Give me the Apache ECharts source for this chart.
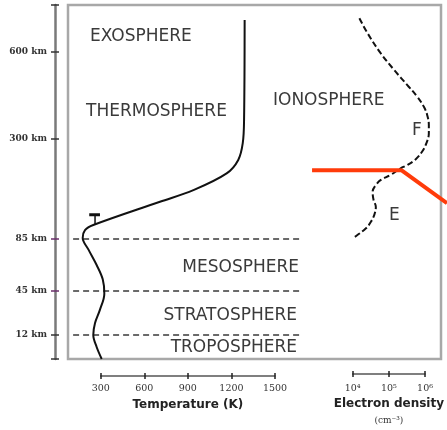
<!DOCTYPE html>
<html>
<head>
<meta charset="utf-8">
<script src="https://cdn.jsdelivr.net/npm/echarts@6/dist/echarts.min.js"></script>
<style>html,body{margin:0;padding:0;background:#fff}#c{width:447px;height:430px}</style>
</head>
<body>
<div id="c"></div>
<script>
// ---------- data ----------
const altitudeTicks = [12, 45, 85, 300, 600];
const altitudeLabels = ['12 km', '45 km', '85 km', '300 km', '600 km'];
const tempTicks = [300, 600, 900, 1200, 1500];
const densityTicks = [1e4, 1e5, 1e6];
const densityLabels = ['10\u2074', '10\u2075', '10\u2076'];

// temperature profile (altitude km, temperature K)
const tempAlt = [0, 6, 12, 21, 31, 43, 54, 65, 77, 87, 104, 115, 165, 190, 226, 255, 291, 366, 872];
const tempK   = [307, 272, 249, 261, 295, 325, 314, 272, 215, 176, 192, 249, 708, 938, 1167, 1247, 1278, 1287, 1291];

// mesopause marker
const markerT = 261, markerCapT = [221, 295], markerAlt = [115, 137];

// layer boundaries
const boundaryAlt = [12, 45, 85];
const boundaryT = [110, 1690];

// electron density profile (altitude km, density cm^-3)
const densAlt = [887, 759, 595, 538, 486, 446, 411, 383, 348, 320, 291, 273, 256, 244, 237, 223, 212, 201, 187, 169, 154, 137, 122, 108, 94, 86.5];
const densVal = [17300, 28700, 64600, 146000, 328000, 603000, 907000, 1110000, 1230000, 1230000, 1060000, 818000, 543000, 328000, 218000, 119000, 64600, 47500, 38900, 41300, 47500, 43200, 35100, 25900, 15600, 11500];

// pointer annotation (density, altitude)
const pointerDens = [946, 227000, 3750000];
const pointerAlt = [233, 233, 162];

// ---------- schematic altitude scale ----------
const ALT_BREAKS = [0, 12, 45, 85, 300, 600, 1000];
const ALT_POS = [0, 24, 68, 120, 220, 307, 354];
function altToPos(a) {
  for (let i = 1; i < ALT_BREAKS.length; i++) {
    if (a <= ALT_BREAKS[i] || i === ALT_BREAKS.length - 1) {
      const f = (a - ALT_BREAKS[i-1]) / (ALT_BREAKS[i] - ALT_BREAKS[i-1]);
      return ALT_POS[i-1] + f * (ALT_POS[i] - ALT_POS[i-1]);
    }
  }
}
const tickPosGray = [0, 12, 300, 600, 1000].map(altToPos);
const tickPosPurple = [45, 85].map(altToPos);
const labelPos = altitudeTicks.map(altToPos);

// ---------- layout ----------
const TOP = 5, H = 354;
const FRAME_L = 68, FRAME_W = 373;
const T_L = 100.7, T_W = 174.3;        // visible temperature axis
const D_L = 352.7, D_W = 75.6;         // visible density axis
const D_GRID_R = 450;                   // density data area right edge
const T_MIN = tempTicks[0], T_MAX = tempTicks[tempTicks.length - 1];
const kPerPx = (T_MAX - T_MIN) / T_W;
const tDataMin = T_MIN - (T_L - FRAME_L) * kPerPx;
const tDataMax = T_MAX + (FRAME_L + FRAME_W - T_L - T_W) * kPerPx;
const decPerPx = 2 / D_W;
const dDataMin = Math.pow(10, 4 - (D_L - FRAME_L) * decPerPx);
const dDataMax = Math.pow(10, 6 + (D_GRID_R - D_L - D_W) * decPerPx);

const chart = echarts.init(document.getElementById('c'), null, {renderer: 'canvas'});

const smallFont = '"DejaVu Serif"';
const bigFont = '"DejaVu Sans"';

function yAx(extra) {
  return Object.assign({
    type: 'value', min: 0, max: 354, gridIndex: 1, position: 'left', offset: T_L - 55,
    splitLine: {show: false}, axisLine: {show: false, onZero: false}, axisLabel: {show: false}, axisTick: {show: false}
  }, extra);
}

const regionLabels = [
  {t: 'EXOSPHERE', x: 90, y: 37, a: 'left'},
  {t: 'THERMOSPHERE', x: 86, y: 112, a: 'left'},
  {t: 'IONOSPHERE', x: 273, y: 101, a: 'left'},
  {t: 'F', x: 412, y: 131, a: 'left'},
  {t: 'E', x: 389, y: 216, a: 'left'},
  {t: 'MESOSPHERE', x: 299, y: 268, a: 'right'},
  {t: 'STRATOSPHERE', x: 297, y: 316, a: 'right'},
  {t: 'TROPOSPHERE', x: 297, y: 348, a: 'right'}
];

const tickStyle = {color: '#222', width: 1.5};

const option = {
  animation: false,
  backgroundColor: '#fff',
  grid: [
    {left: FRAME_L, top: TOP, width: FRAME_W, height: H, show: true, borderColor: '#a8a8a8', borderWidth: 2.5, backgroundColor: 'transparent'},
    {left: T_L, top: TOP, width: T_W, height: H},
    {left: D_L, top: TOP, width: D_W, height: H},
    {left: FRAME_L, top: TOP, width: D_GRID_R - FRAME_L, height: H}
  ],
  xAxis: [
    { // 0 temperature (visible)
      type: 'value', gridIndex: 1, min: T_MIN, max: T_MAX, interval: 300, position: 'bottom', offset: 17,
      splitLine: {show: false},
      axisLine: {show: true, onZero: false, lineStyle: {color: '#555', width: 1.5}},
      axisTick: {show: true, length: 3, lineStyle: tickStyle},
      axisLabel: {margin: 8, fontFamily: smallFont, fontSize: 9.5, color: '#333', showMinLabel: true, showMaxLabel: true,
        formatter: v => String(v)},
      name: 'Temperature (K)', nameLocation: 'middle', nameGap: 22,
      nameTextStyle: {fontFamily: bigFont, fontWeight: 'bold', fontSize: 12, color: '#222'}
    },
    { // 1 temperature inward ticks
      type: 'value', gridIndex: 1, min: T_MIN, max: T_MAX, interval: 300, position: 'bottom', offset: 17,
      splitLine: {show: false}, axisLine: {show: false, onZero: false}, axisLabel: {show: false},
      axisTick: {show: true, inside: true, length: 3, lineStyle: tickStyle}
    },
    { // 2 electron density (visible)
      type: 'log', logBase: 10, gridIndex: 2, min: 1e4, max: 1e6, position: 'bottom', offset: 16,
      splitLine: {show: false},
      axisLine: {show: true, onZero: false, lineStyle: {color: '#555', width: 1.5}},
      axisTick: {show: true, length: 3, lineStyle: tickStyle},
      axisLabel: {margin: 9, fontFamily: smallFont, fontSize: 9.5, color: '#333',
        formatter: v => { const i = densityTicks.indexOf(Math.round(v)); return i >= 0 ? densityLabels[i] : ''; }},
      name: '{a|Electron density}\n{b|(cm\u207B\u00B3)}', nameLocation: 'middle', nameGap: 20,
      nameTextStyle: {rich: {
        a: {fontFamily: bigFont, fontWeight: 'bold', fontSize: 12, color: '#222', lineHeight: 15, align: 'center'},
        b: {fontFamily: smallFont, fontSize: 9, color: '#333', lineHeight: 18, align: 'center'}
      }}
    },
    { // 3 electron inward ticks
      type: 'log', logBase: 10, gridIndex: 2, min: 1e4, max: 1e6, position: 'bottom', offset: 16,
      splitLine: {show: false}, axisLine: {show: false, onZero: false}, axisLabel: {show: false},
      axisTick: {show: true, inside: true, length: 3, lineStyle: tickStyle}
    },
    { // 4 temperature data axis over whole frame
      type: 'value', gridIndex: 0, show: false, min: tDataMin, max: tDataMax, splitLine: {show: false}
    },
    { // 5 density data axis over frame
      type: 'log', logBase: 10, gridIndex: 3, show: false, min: dDataMin, max: dDataMax, splitLine: {show: false}
    }
  ],
  yAxis: [
    yAx({ // 0 altitude main
      axisLine: {show: true, onZero: false, lineStyle: {color: '#7a7a7a', width: 2.5}},
      axisTick: {show: true, length: 4, customValues: tickPosGray, lineStyle: {color: '#333', width: 1.5}},
      axisLabel: {show: true, margin: 8, customValues: labelPos, fontFamily: smallFont, fontWeight: 'bold', fontSize: 9, color: '#333',
        formatter: v => { let best = 0; labelPos.forEach((p, i) => { if (Math.abs(p - v) < Math.abs(labelPos[best] - v)) best = i; }); return altitudeLabels[best]; }}
    }),
    yAx({axisTick: {show: true, inside: true, length: 4, customValues: tickPosGray, lineStyle: {color: '#333', width: 1.5}}}),
    yAx({axisTick: {show: true, length: 4, customValues: tickPosPurple, lineStyle: {color: '#6a2e6a', width: 1.5}}}),
    yAx({axisTick: {show: true, inside: true, length: 4, customValues: tickPosPurple, lineStyle: {color: '#6a2e6a', width: 1.5}}}),
    {type: 'value', gridIndex: 2, min: 0, max: 354, show: false, splitLine: {show: false}},
    {type: 'value', gridIndex: 0, min: 0, max: 354, show: false, splitLine: {show: false}},
    {type: 'value', gridIndex: 3, min: 0, max: 354, show: false, splitLine: {show: false}}
  ],
  series: [
    ...boundaryAlt.map(a => ({
      type: 'line', xAxisIndex: 4, yAxisIndex: 5, showSymbol: false, silent: true,
      data: boundaryT.map(t => [t, altToPos(a)]),
      lineStyle: {color: '#3a3a3a', width: 1.5, type: [6, 4]}
    })),
    {
      type: 'line', xAxisIndex: 4, yAxisIndex: 5, showSymbol: false, smooth: 0.35,
      data: tempK.map((t, i) => [t, altToPos(tempAlt[i])]),
      lineStyle: {color: '#111', width: 2}
    },
    {
      type: 'line', xAxisIndex: 4, yAxisIndex: 5, showSymbol: false,
      data: markerAlt.map(a => [markerT, altToPos(a)]),
      lineStyle: {color: '#111', width: 1.5}
    },
    {
      type: 'line', xAxisIndex: 4, yAxisIndex: 5, showSymbol: false,
      data: markerCapT.map(t => [t, altToPos(markerAlt[1])]),
      lineStyle: {color: '#111', width: 3}
    },
    {
      type: 'line', xAxisIndex: 5, yAxisIndex: 6, showSymbol: false, smooth: 0.4,
      data: densVal.map((d, i) => [d, altToPos(densAlt[i])]),
      lineStyle: {color: '#111', width: 2, type: [6, 3]}
    },
    {
      type: 'line', xAxisIndex: 5, yAxisIndex: 6, showSymbol: false,
      data: pointerDens.map((d, i) => [d, altToPos(pointerAlt[i])]),
      lineStyle: {color: '#ff3b0a', width: 4}
    }
  ],
  graphic: regionLabels.map(l => ({
    type: 'text', x: l.x, y: l.y, silent: true,
    style: {text: l.t, fill: '#3a3a3a', font: '17px "DejaVu Sans"', align: l.a, verticalAlign: 'middle'}
  }))
};
chart.setOption(option);
</script>
</body>
</html>
